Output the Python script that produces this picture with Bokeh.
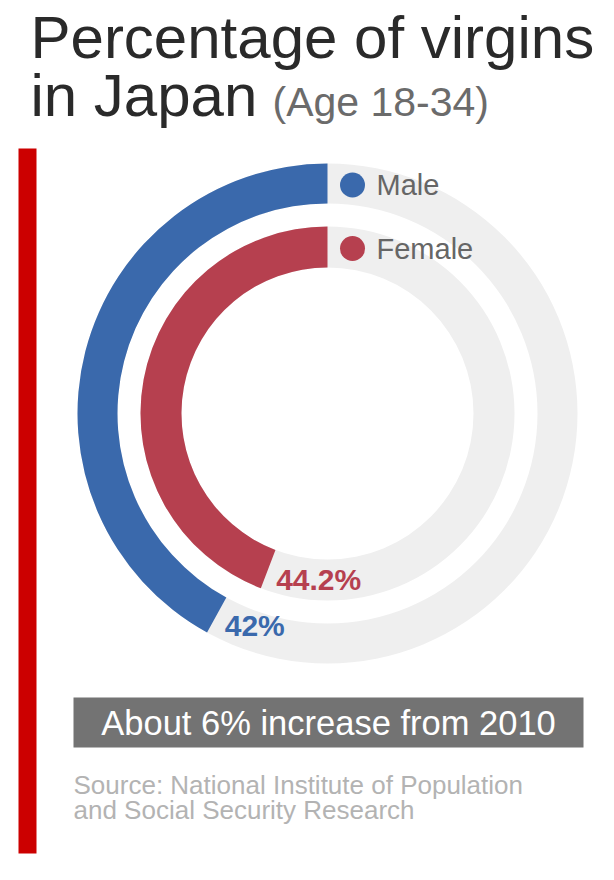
import math

from bokeh.core.properties import value
from bokeh.embed import file_html
from bokeh.models import ColumnDataSource, Range1d
from bokeh.plotting import figure
from bokeh.resources import INLINE

# --- data -------------------------------------------------------------
groups = ["Male", "Female"]
percent = [42.0, 44.2]
pct_labels = ["42%", "44.2%"]
series_colors = ["#3a69ac", "#b6404f"]

title_lines = ["Percentage of virgins", "in Japan"]
subtitle = "(Age 18-34)"
callout = "About 6% increase from 2010"
source_lines = ["Source: National Institute of Population",
                "and Social Security Research"]

# --- canvas -----------------------------------------------------------
W, H = 614, 880
FONT = "Liberation Sans"


def Y(y_down):
    """Convert a top-down page offset into the y-up data space."""
    return H - y_down


p = figure(width=W, height=H, x_range=Range1d(0, W), y_range=Range1d(0, H),
           output_backend="svg", toolbar_location=None, min_border=0)
p.axis.visible = False
p.grid.visible = False
p.outline_line_color = None
p.background_fill_color = "white"
p.border_fill_color = "white"

# red accent bar on the left
p.quad(left=[18], right=[36], top=[Y(148)], bottom=[Y(853)],
       fill_color="#cc0000", line_color=None)

# --- title ------------------------------------------------------------
p.text(x=[30, 30], y=[Y(37), Y(95)], text=title_lines, text_font=value(FONT),
       text_font_size="60px", text_color="#2a2a2a", text_baseline="middle")
p.text(x=[272], y=[Y(101)], text=[subtitle], text_font=value(FONT),
       text_font_size="41px", text_color="#6b6b6b", text_baseline="middle")

# --- concentric progress rings ---------------------------------------
CX, CY = 327, Y(413)
rings = [(210, 250), (146, 187)]  # (inner, outer) radius per group

start = [math.pi / 2] * len(groups)
end = [math.pi / 2 + 2 * math.pi * v / 100 for v in percent]
mid = [(a + b) / 2 for a, b in rings]

src = ColumnDataSource(dict(
    x=[CX] * len(groups), y=[CY] * len(groups),
    inner=[a for a, _ in rings], outer=[b for _, b in rings],
    start=start, end=end, color=series_colors, group=groups,
    mid=mid,
))

# light grey track for each ring
p.annulus(x="x", y="y", inner_radius="inner", outer_radius="outer",
          source=src, fill_color="#efefef", line_color=None)
# filled share
p.annular_wedge(x="x", y="y", inner_radius="inner", outer_radius="outer",
                start_angle="start", end_angle="end", direction="anticlock",
                source=src, fill_color="color", line_color=None)

# legend dots and names at the top of each ring
p.scatter(x=[CX + 25] * len(groups), y=[CY + m - 1.5 for m in mid], size=25,
          marker="circle", fill_color=series_colors, line_color=None)
p.text(x=[CX + 49] * len(groups), y=[CY + m - 1.5 for m in mid], text=groups,
       text_font=value(FONT), text_font_size="29px", text_color="#666666",
       text_baseline="middle", text_align="left")

# value labels at the end of each arc
lab_x = [CX + m * math.cos(a) for m, a in zip(mid, end)]
lab_y = [CY + m * math.sin(a) for m, a in zip(mid, end)]
p.text(x=lab_x, y=lab_y, text=pct_labels, text_font=value(FONT),
       text_font_size="30px", text_font_style="bold",
       text_color=series_colors, text_align="left", text_baseline="top",
       x_offset=8, y_offset=-6)

# --- callout box ------------------------------------------------------
p.quad(left=[73], right=[583], top=[Y(697)], bottom=[Y(747)],
       fill_color="#737373", line_color=None)
p.text(x=[328], y=[Y(722)], text=[callout], text_font=value(FONT),
       text_font_size="34.5px", text_color="white",
       text_align="center", text_baseline="middle")

# --- source note ------------------------------------------------------
p.text(x=[73, 73], y=[Y(784), Y(809)], text=source_lines,
       text_font=value(FONT), text_font_size="26px", text_color="#b3b3b3",
       text_baseline="middle")

open("out.html", "w").write(file_html(p, INLINE))
